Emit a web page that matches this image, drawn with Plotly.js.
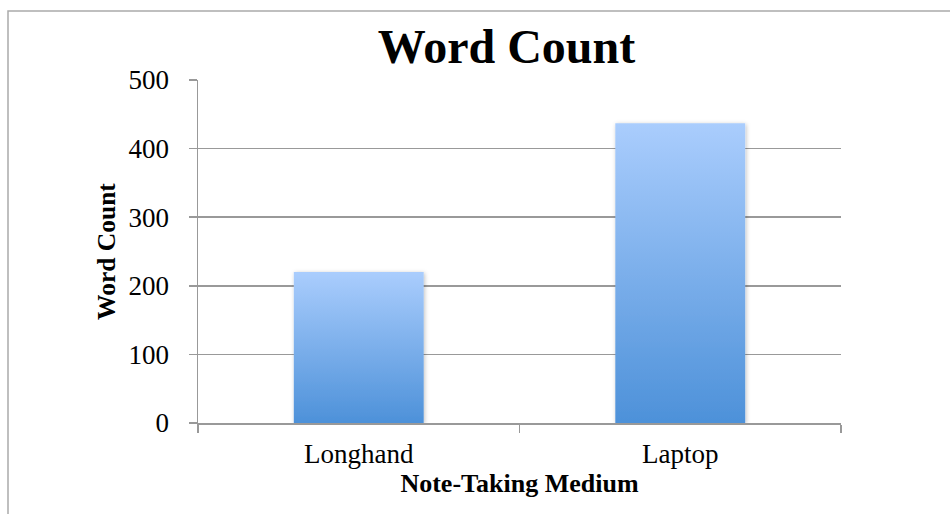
<!DOCTYPE html>
<html>
<head>
<meta charset="utf-8">
<script src="https://cdn.plot.ly/plotly-3.0.1.min.js"></script>
<style>
html,body{margin:0;padding:0;background:#fff;}
#chart{width:950px;height:514px;}
</style>
</head>
<body>
<div id="chart"></div>
<script>
const categories = ["Longhand", "Laptop"];
const wordCounts = [220, 437];
const yTickVals = [0, 100, 200, 300, 400, 500];
const chartTitle = "Word Count";
const xTitle = "Note-Taking Medium";
const yTitle = "Word Count";

const FONT = "'Liberation Serif', 'Times New Roman', serif";
const GRID = "#999999";

const trace = {
  type: "bar",
  x: categories,
  y: wordCounts,
  marker: {color: "#7fb2ec", line: {width: 0}},
  width: 0.404,
  hoverinfo: "skip"
};

const layout = {
  width: 950,
  height: 514,
  margin: {l: 198, r: 109, t: 79.5, b: 91, pad: 0},
  paper_bgcolor: "#ffffff",
  plot_bgcolor: "#ffffff",
  showlegend: false,
  font: {family: FONT, color: "#000000", size: 27},
  title: {
    text: "<b>" + chartTitle + "</b>",
    font: {family: FONT, size: 48, color: "#000000"},
    xref: "container", yref: "container",
    x: 506.5 / 950, xanchor: "center",
    y: 1 - 46 / 514, yanchor: "middle"
  },
  xaxis: {
    type: "category",
    showgrid: false,
    showline: true,
    linecolor: GRID,
    linewidth: 1.5,
    ticks: "outside",
    tickson: "boundaries",
    ticklen: 8,
    tickwidth: 1.5,
    tickcolor: GRID,
    tickfont: {family: FONT, size: 27, color: "#000"},
    ticklabelstandoff: 6,
    title: {
      text: "<b>" + xTitle + "</b>",
      font: {family: FONT, size: 26, color: "#000"},
      standoff: 1
    },
    zeroline: false,
    fixedrange: true
  },
  yaxis: {
    range: [0, 500],
    tickvals: yTickVals,
    showgrid: true,
    gridcolor: GRID,
    gridwidth: 1.5,
    showline: true,
    linecolor: GRID,
    linewidth: 1.5,
    ticks: "outside",
    ticklen: 8,
    tickwidth: 1.5,
    tickcolor: GRID,
    tickfont: {family: FONT, size: 27, color: "#000"},
    ticklabelstandoff: 14,
    title: {
      text: "<b>" + yTitle + "</b>",
      font: {family: FONT, size: 25.5, color: "#000"},
      standoff: 5
    },
    zeroline: false,
    fixedrange: true
  },
  shapes: [{
    type: "rect",
    xref: "paper", yref: "paper",
    x0: (8 - 198) / 643, x1: 1.4,
    y0: -0.4, y1: (423 - 10.5) / 343.5,
    line: {color: "#aaaaaa", width: 1.5},
    fillcolor: "rgba(0,0,0,0)",
    layer: "below"
  }]
};

Plotly.newPlot("chart", [trace], layout, {staticPlot: true, displayModeBar: false}).then(function (gd) {
  const svg = gd.querySelector("svg.main-svg");
  const NS = "http://www.w3.org/2000/svg";
  let defs = svg.querySelector("defs");
  if (!defs) { defs = document.createElementNS(NS, "defs"); svg.insertBefore(defs, svg.firstChild); }
  const grad = document.createElementNS(NS, "linearGradient");
  grad.setAttribute("id", "barGrad");
  grad.setAttribute("x1", "0"); grad.setAttribute("y1", "0");
  grad.setAttribute("x2", "0"); grad.setAttribute("y2", "1");
  [["0", "#aacdfd"], ["1", "#4d91d9"]].forEach(function (s) {
    const st = document.createElementNS(NS, "stop");
    st.setAttribute("offset", s[0]);
    st.setAttribute("stop-color", s[1]);
    grad.appendChild(st);
  });
  defs.appendChild(grad);
  const filt = document.createElementNS(NS, "filter");
  filt.setAttribute("id", "barShadow");
  filt.setAttribute("x", "-10%"); filt.setAttribute("y", "-10%");
  filt.setAttribute("width", "125%"); filt.setAttribute("height", "125%");
  const ds = document.createElementNS(NS, "feDropShadow");
  ds.setAttribute("dx", "1"); ds.setAttribute("dy", "1");
  ds.setAttribute("stdDeviation", "2");
  ds.setAttribute("flood-color", "#000");
  ds.setAttribute("flood-opacity", "0.25");
  filt.appendChild(ds);
  defs.appendChild(filt);
  gd.querySelectorAll(".bars .point path").forEach(function (p) {
    p.style.fill = "url(#barGrad)";
    p.setAttribute("filter", "url(#barShadow)");
  });
});
</script>
</body>
</html>
